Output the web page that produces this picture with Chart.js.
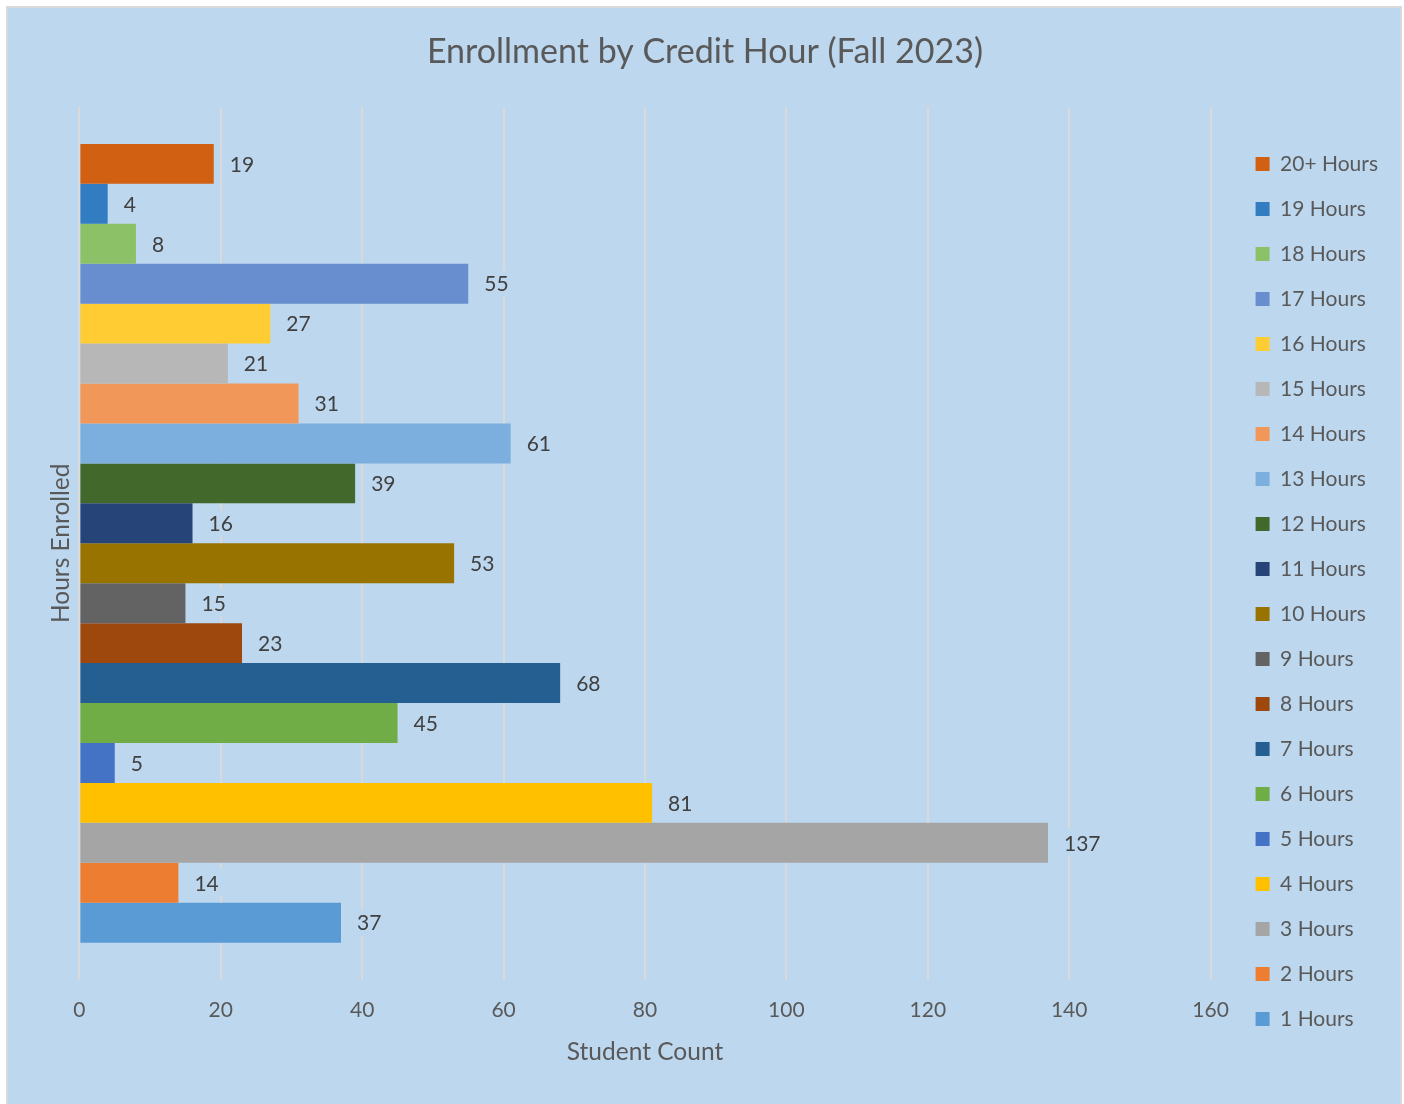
<!DOCTYPE html>
<html>
<head>
<meta charset="utf-8">
<title>Enrollment by Credit Hour</title>
<script src="https://cdn.jsdelivr.net/npm/chart.js@4.4.1/dist/chart.umd.min.js"></script>
<style>
  html, body { margin: 0; padding: 0; background: #ffffff; }
  #frame {
    position: absolute; left: 6px; top: 6px;
    width: 1396px; height: 1104px;
    box-sizing: border-box;
    border: 2px solid #d9d9d9;
    background: #bdd7ee;
  }
  #enrollChart { display: block; }
</style>
</head>
<body>
<div id="frame">
  <canvas id="enrollChart" width="1392" height="1096"></canvas>
</div>
<script>
// credit hour buckets, listed top to bottom as they appear in the chart
const hourLabels = ['20+ Hours', '19 Hours', '18 Hours', '17 Hours', '16 Hours', '15 Hours', '14 Hours',
    '13 Hours', '12 Hours', '11 Hours', '10 Hours', '9 Hours', '8 Hours', '7 Hours', '6 Hours',
    '5 Hours', '4 Hours', '3 Hours', '2 Hours', '1 Hours'];
const studentCounts = [19, 4, 8, 55, 27, 21, 31, 61, 39, 16, 53, 15, 23, 68, 45, 5, 81, 137, 14, 37];
const barColors = ['#d26012', '#327dc2', '#8cc168', '#698ed0', '#ffcd33', '#b7b7b7', '#f1975a',
    '#7cafdd', '#43682b', '#264478', '#997300', '#636363', '#9e480e', '#255e91', '#70ad47',
    '#4472c4', '#ffc000', '#a5a5a5', '#ed7d31', '#5b9bd5'];
const countAxisMin = 0;
const countAxisMax = 160;
const countAxisStep = 20;

const FONT = 'Lato, "Open Sans", sans-serif';
const BG = '#bdd7ee';

// value labels to the right of each bar, with a small backdrop over the grid
const valueLabels = {
    id: 'valueLabels',
    afterDatasetsDraw(chart) {
        const ctx = chart.ctx;
        ctx.save();
        ctx.font = '21px ' + FONT;
        ctx.textBaseline = 'middle';
        ctx.textAlign = 'left';
        chart.data.datasets.forEach((ds, i) => {
            const bar = chart.getDatasetMeta(i).data[0];
            const text = String(ds.data[0]);
            const x = bar.x + 16;
            const w = ctx.measureText(text).width;
            ctx.fillStyle = BG;
            ctx.fillRect(x - 4, bar.y - 13, w + 8, 26);
            ctx.fillStyle = '#404040';
            ctx.fillText(text, x, bar.y + 1);
        });
        ctx.restore();
    }
};

const datasets = hourLabels.map((label, i) => ({
    label: label,
    data: [studentCounts[i]],
    backgroundColor: barColors[i],
    borderWidth: 0,
    xAxisID: 'x',
    yAxisID: 'y'
}));

new Chart(document.getElementById('enrollChart'), {
    type: 'bar',
    data: {
        labels: ['Hours'],
        datasets: datasets
    },
    options: {
        indexAxis: 'y',
        responsive: false,
        animation: false,
        categoryPercentage: 0.915,
        barPercentage: 1,
        layout: { padding: { left: 14, right: 12 } },
        plugins: {
            title: {
                display: true,
                text: 'Enrollment by Credit Hour (Fall 2023)',
                color: '#595959',
                font: { family: FONT, size: 34, weight: 'normal' },
                padding: { top: 24, bottom: 34 }
            },
            legend: {
                position: 'right',
                align: 'start',
                title: {
                    display: true,
                    text: '',
                    font: { size: 10, lineHeight: 1 },
                    padding: { top: 111.5, bottom: 0 }
                },
                labels: {
                    boxWidth: 14,
                    boxHeight: 14,
                    padding: 24,
                    color: '#595959',
                    font: { family: FONT, size: 21 }
                }
            },
            tooltip: { enabled: false }
        },
        scales: {
            x: {
                min: countAxisMin,
                max: countAxisMax,
                ticks: {
                    stepSize: countAxisStep,
                    padding: 18,
                    color: '#595959',
                    font: { family: FONT, size: 21 }
                },
                grid: { color: '#d9d9d9', lineWidth: 2, drawTicks: false },
                border: { display: false },
                title: {
                    display: true,
                    text: 'Student Count',
                    color: '#595959',
                    font: { family: FONT, size: 24.5, lineHeight: 0.9 },
                    padding: { top: 0, bottom: 41 }
                }
            },
            y: {
                ticks: { display: false },
                grid: { display: false, drawTicks: false },
                border: { display: false },
                title: {
                    display: true,
                    text: 'Hours Enrolled',
                    color: '#595959',
                    font: { family: FONT, size: 24.5 },
                    padding: { top: 24, bottom: 4 }
                }
            },
            // empty axis on the right: only spaces the plot away from the legend
            gap: {
                type: 'linear',
                axis: 'y',
                position: 'right',
                ticks: { display: false },
                grid: { display: false, drawTicks: false },
                border: { display: false },
                title: {
                    display: true,
                    text: '',
                    font: { size: 10, lineHeight: 1 },
                    padding: { top: 0, bottom: 11 }
                }
            }
        }
    },
    plugins: [valueLabels]
});
</script>
</body>
</html>
